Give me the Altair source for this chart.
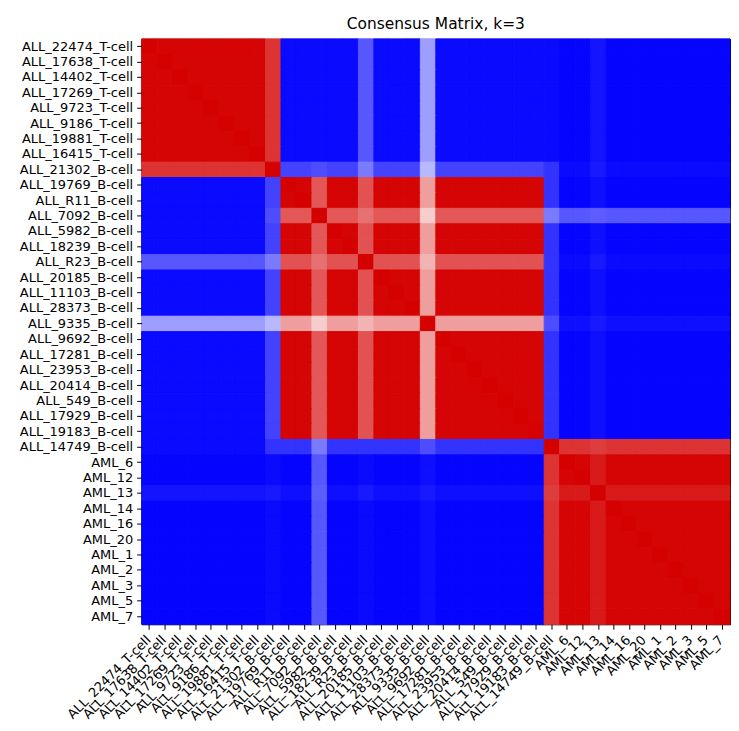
import altair as alt
import pandas as pd

labels = [
    "ALL_22474_T-cell", "ALL_17638_T-cell", "ALL_14402_T-cell", "ALL_17269_T-cell",
    "ALL_9723_T-cell", "ALL_9186_T-cell", "ALL_19881_T-cell", "ALL_16415_T-cell",
    "ALL_21302_B-cell", "ALL_19769_B-cell", "ALL_R11_B-cell", "ALL_7092_B-cell",
    "ALL_5982_B-cell", "ALL_18239_B-cell", "ALL_R23_B-cell", "ALL_20185_B-cell",
    "ALL_11103_B-cell", "ALL_28373_B-cell", "ALL_9335_B-cell", "ALL_9692_B-cell",
    "ALL_17281_B-cell", "ALL_23953_B-cell", "ALL_20414_B-cell", "ALL_549_B-cell",
    "ALL_17929_B-cell", "ALL_19183_B-cell", "ALL_14749_B-cell",
    "AML_6", "AML_12", "AML_13", "AML_14", "AML_16", "AML_20",
    "AML_1", "AML_2", "AML_3", "AML_5", "AML_7",
]

# consensus values, one row per sample (same order as labels)
consensus = [
    [1.00,.99,.99,.99,.99,.99,.99,.99,.90,.02,.02,.02,.02,.02,.17,.02,.02,.02,.31,.02,.02,.02,.02,.02,.02,.02,.02,.01,.01,.04,.01,.01,.01,.01,.01,.01,.01,.01],
    [.99,1.00,.99,.99,.99,.99,.99,.99,.90,.02,.02,.02,.02,.02,.17,.02,.02,.02,.31,.02,.02,.02,.02,.02,.02,.02,.02,.01,.01,.04,.01,.01,.01,.01,.01,.01,.01,.01],
    [.99,.99,1.00,.99,.99,.99,.99,.99,.90,.02,.02,.02,.02,.02,.17,.02,.02,.02,.31,.02,.02,.02,.02,.02,.02,.02,.02,.01,.01,.04,.01,.01,.01,.01,.01,.01,.01,.01],
    [.99,.99,.99,1.00,.99,.99,.99,.99,.90,.02,.02,.02,.02,.02,.17,.02,.02,.02,.31,.02,.02,.02,.02,.02,.02,.02,.02,.01,.01,.04,.01,.01,.01,.01,.01,.01,.01,.01],
    [.99,.99,.99,.99,1.00,.99,.99,.99,.90,.02,.02,.02,.02,.02,.17,.02,.02,.02,.31,.02,.02,.02,.02,.02,.02,.02,.02,.01,.01,.04,.01,.01,.01,.01,.01,.01,.01,.01],
    [.99,.99,.99,.99,.99,1.00,.99,.99,.90,.02,.02,.02,.02,.02,.17,.02,.02,.02,.31,.02,.02,.02,.02,.02,.02,.02,.02,.01,.01,.04,.01,.01,.01,.01,.01,.01,.01,.01],
    [.99,.99,.99,.99,.99,.99,1.00,.99,.90,.02,.02,.02,.02,.02,.17,.02,.02,.02,.31,.02,.02,.02,.02,.02,.02,.02,.02,.01,.01,.04,.01,.01,.01,.01,.01,.01,.01,.01],
    [.99,.99,.99,.99,.99,.99,.99,1.00,.90,.02,.02,.02,.02,.02,.17,.02,.02,.02,.31,.02,.02,.02,.02,.02,.02,.02,.02,.01,.01,.04,.01,.01,.01,.01,.01,.01,.01,.01],
    [.90,.90,.90,.90,.90,.90,.90,.90,1.00,.13,.13,.15,.13,.13,.24,.13,.13,.13,.36,.13,.13,.13,.13,.13,.13,.13,.10,.02,.02,.05,.02,.02,.02,.02,.02,.02,.02,.02],
    [.02,.02,.02,.02,.02,.02,.02,.02,.13,1.00,.99,.83,.99,.99,.84,.99,.99,.99,.69,.99,.99,.99,.99,.99,.99,.99,.10,.01,.01,.03,.01,.01,.01,.01,.01,.01,.01,.01],
    [.02,.02,.02,.02,.02,.02,.02,.02,.13,.99,1.00,.83,.99,.99,.84,.99,.99,.99,.69,.99,.99,.99,.99,.99,.99,.99,.10,.01,.01,.03,.01,.01,.01,.01,.01,.01,.01,.01],
    [.02,.02,.02,.02,.02,.02,.02,.02,.15,.83,.83,1.00,.83,.83,.78,.83,.83,.83,.60,.83,.83,.83,.83,.83,.83,.83,.24,.17,.17,.18,.17,.17,.17,.17,.17,.17,.17,.17],
    [.02,.02,.02,.02,.02,.02,.02,.02,.13,.99,.99,.83,1.00,.99,.84,.99,.99,.99,.69,.99,.99,.99,.99,.99,.99,.99,.10,.01,.01,.03,.01,.01,.01,.01,.01,.01,.01,.01],
    [.02,.02,.02,.02,.02,.02,.02,.02,.13,.99,.99,.83,.99,1.00,.84,.99,.99,.99,.69,.99,.99,.99,.99,.99,.99,.99,.10,.01,.01,.03,.01,.01,.01,.01,.01,.01,.01,.01],
    [.17,.17,.17,.17,.17,.17,.17,.17,.24,.84,.84,.78,.84,.84,1.00,.84,.84,.84,.65,.84,.84,.84,.84,.84,.84,.84,.10,.02,.02,.05,.02,.02,.02,.02,.02,.02,.02,.02],
    [.02,.02,.02,.02,.02,.02,.02,.02,.13,.99,.99,.83,.99,.99,.84,1.00,.99,.99,.69,.99,.99,.99,.99,.99,.99,.99,.10,.01,.01,.03,.01,.01,.01,.01,.01,.01,.01,.01],
    [.02,.02,.02,.02,.02,.02,.02,.02,.13,.99,.99,.83,.99,.99,.84,.99,1.00,.99,.69,.99,.99,.99,.99,.99,.99,.99,.10,.01,.01,.03,.01,.01,.01,.01,.01,.01,.01,.01],
    [.02,.02,.02,.02,.02,.02,.02,.02,.13,.99,.99,.83,.99,.99,.84,.99,.99,1.00,.69,.99,.99,.99,.99,.99,.99,.99,.10,.01,.01,.03,.01,.01,.01,.01,.01,.01,.01,.01],
    [.31,.31,.31,.31,.31,.31,.31,.31,.36,.69,.69,.60,.69,.69,.65,.69,.69,.69,1.00,.69,.69,.69,.69,.69,.69,.69,.15,.03,.03,.05,.03,.03,.03,.03,.03,.03,.03,.03],
    [.02,.02,.02,.02,.02,.02,.02,.02,.13,.99,.99,.83,.99,.99,.84,.99,.99,.99,.69,1.00,.99,.99,.99,.99,.99,.99,.10,.01,.01,.03,.01,.01,.01,.01,.01,.01,.01,.01],
    [.02,.02,.02,.02,.02,.02,.02,.02,.13,.99,.99,.83,.99,.99,.84,.99,.99,.99,.69,.99,1.00,.99,.99,.99,.99,.99,.10,.01,.01,.03,.01,.01,.01,.01,.01,.01,.01,.01],
    [.02,.02,.02,.02,.02,.02,.02,.02,.13,.99,.99,.83,.99,.99,.84,.99,.99,.99,.69,.99,.99,1.00,.99,.99,.99,.99,.10,.01,.01,.03,.01,.01,.01,.01,.01,.01,.01,.01],
    [.02,.02,.02,.02,.02,.02,.02,.02,.13,.99,.99,.83,.99,.99,.84,.99,.99,.99,.69,.99,.99,.99,1.00,.99,.99,.99,.10,.01,.01,.03,.01,.01,.01,.01,.01,.01,.01,.01],
    [.02,.02,.02,.02,.02,.02,.02,.02,.13,.99,.99,.83,.99,.99,.84,.99,.99,.99,.69,.99,.99,.99,.99,1.00,.99,.99,.10,.01,.01,.03,.01,.01,.01,.01,.01,.01,.01,.01],
    [.02,.02,.02,.02,.02,.02,.02,.02,.13,.99,.99,.83,.99,.99,.84,.99,.99,.99,.69,.99,.99,.99,.99,.99,1.00,.99,.10,.01,.01,.03,.01,.01,.01,.01,.01,.01,.01,.01],
    [.02,.02,.02,.02,.02,.02,.02,.02,.13,.99,.99,.83,.99,.99,.84,.99,.99,.99,.69,.99,.99,.99,.99,.99,.99,1.00,.10,.01,.01,.03,.01,.01,.01,.01,.01,.01,.01,.01],
    [.02,.02,.02,.02,.02,.02,.02,.02,.10,.10,.10,.24,.10,.10,.10,.10,.10,.10,.15,.10,.10,.10,.10,.10,.10,.10,1.00,.90,.90,.88,.90,.90,.90,.90,.90,.90,.90,.90],
    [.01,.01,.01,.01,.01,.01,.01,.01,.02,.01,.01,.17,.01,.01,.02,.01,.01,.01,.03,.01,.01,.01,.01,.01,.01,.01,.90,1.00,.99,.95,.99,.99,.99,.99,.99,.99,.99,.99],
    [.01,.01,.01,.01,.01,.01,.01,.01,.02,.01,.01,.17,.01,.01,.02,.01,.01,.01,.03,.01,.01,.01,.01,.01,.01,.01,.90,.99,1.00,.95,.99,.99,.99,.99,.99,.99,.99,.99],
    [.04,.04,.04,.04,.04,.04,.04,.04,.05,.03,.03,.18,.03,.03,.05,.03,.03,.03,.05,.03,.03,.03,.03,.03,.03,.03,.88,.95,.95,1.00,.95,.95,.95,.95,.95,.95,.95,.95],
    [.01,.01,.01,.01,.01,.01,.01,.01,.02,.01,.01,.17,.01,.01,.02,.01,.01,.01,.03,.01,.01,.01,.01,.01,.01,.01,.90,.99,.99,.95,1.00,.99,.99,.99,.99,.99,.99,.99],
    [.01,.01,.01,.01,.01,.01,.01,.01,.02,.01,.01,.17,.01,.01,.02,.01,.01,.01,.03,.01,.01,.01,.01,.01,.01,.01,.90,.99,.99,.95,.99,1.00,.99,.99,.99,.99,.99,.99],
    [.01,.01,.01,.01,.01,.01,.01,.01,.02,.01,.01,.17,.01,.01,.02,.01,.01,.01,.03,.01,.01,.01,.01,.01,.01,.01,.90,.99,.99,.95,.99,.99,1.00,.99,.99,.99,.99,.99],
    [.01,.01,.01,.01,.01,.01,.01,.01,.02,.01,.01,.17,.01,.01,.02,.01,.01,.01,.03,.01,.01,.01,.01,.01,.01,.01,.90,.99,.99,.95,.99,.99,.99,1.00,.99,.99,.99,.99],
    [.01,.01,.01,.01,.01,.01,.01,.01,.02,.01,.01,.17,.01,.01,.02,.01,.01,.01,.03,.01,.01,.01,.01,.01,.01,.01,.90,.99,.99,.95,.99,.99,.99,.99,1.00,.99,.99,.99],
    [.01,.01,.01,.01,.01,.01,.01,.01,.02,.01,.01,.17,.01,.01,.02,.01,.01,.01,.03,.01,.01,.01,.01,.01,.01,.01,.90,.99,.99,.95,.99,.99,.99,.99,.99,1.00,.99,.99],
    [.01,.01,.01,.01,.01,.01,.01,.01,.02,.01,.01,.17,.01,.01,.02,.01,.01,.01,.03,.01,.01,.01,.01,.01,.01,.01,.90,.99,.99,.95,.99,.99,.99,.99,.99,.99,1.00,.99],
    [.01,.01,.01,.01,.01,.01,.01,.01,.02,.01,.01,.17,.01,.01,.02,.01,.01,.01,.03,.01,.01,.01,.01,.01,.01,.01,.90,.99,.99,.95,.99,.99,.99,.99,.99,.99,.99,1.00],
]

records = []
for i, row_label in enumerate(labels):
    for j, col_label in enumerate(labels):
        records.append({"row": row_label, "col": col_label, "value": consensus[i][j]})
df = pd.DataFrame(records)

FONT = "DejaVu Sans"
cmap = alt.Scale(domain=[0, 0.5, 1], range=["#0000ff", "#ffffff", "#d50000"],
                 interpolate="rgb")

chart = alt.Chart(df).mark_rect(strokeWidth=1).encode(
    x=alt.X("col:N", sort=labels, title=None,
            axis=alt.Axis(labelAngle=-45, labelAlign="right", labelBaseline="top",
                          labelOffset=-5, labelPadding=4, tickSize=5, tickColor="black",
                          labelFont=FONT, labelFontSize=13, labelColor="black",
                          domain=False, labelOverlap=False, labelLimit=300)),
    y=alt.Y("row:N", sort=labels, title=None,
            axis=alt.Axis(labelPadding=4, tickSize=5, tickColor="black",
                          labelFont=FONT, labelFontSize=13, labelColor="black",
                          domain=False, labelOverlap=False, labelLimit=300)),
    color=alt.Color("value:Q", legend=None, scale=cmap),
    stroke=alt.Stroke("value:Q", legend=None, scale=cmap),
).properties(
    width=590,
    height=587,
    title=alt.TitleParams("Consensus Matrix, k=3", font=FONT, fontSize=15.5,
                          fontWeight="normal", color="black", offset=6),
    padding={"left": 11, "top": 8, "right": 0, "bottom": 0},
).configure_view(stroke="black", strokeWidth=1)

chart.save("out.html", embed_options={"renderer": "svg", "actions": False})
